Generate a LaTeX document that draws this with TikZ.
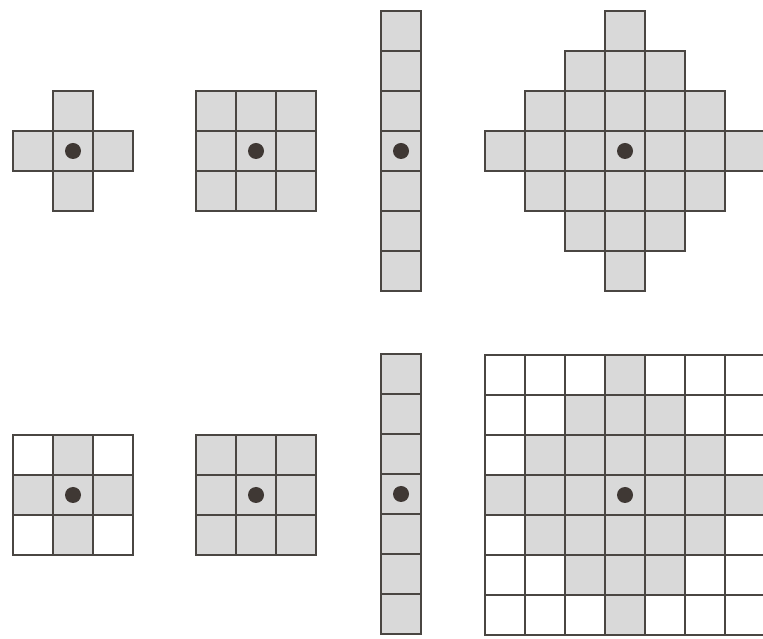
\documentclass[tikz,border=0pt]{standalone}
\definecolor{gridline}{HTML}{4A4642}
\definecolor{cellgray}{HTML}{D9D9D9}
\definecolor{dotgray}{HTML}{3F3834}
\tikzset{
  cell/.style = {draw = gridline, fill = cellgray, line width = 0.6pt},
  origin/.style = {fill = dotgray}
}
\begin{document}
\begin{tikzpicture}[scale = 0.5]
  \useasboundingbox (0,0) rectangle (19.075,15.95);
  % top row
  \begin{scope}[shift = {(1.825,12.175)}]
  \foreach \x/\y in {0/1, -1/0, 0/0, 1/0, 0/-1}
    \draw[cell] (\x-0.5,\y-0.5) rectangle ++(1,1);
  \fill[origin] (0,0) circle (0.2);
  \end{scope}
  \begin{scope}[shift = {(6.4,12.175)}]
  \foreach \x in {-1,0,1}
    \foreach \y in {-1,0,1}
      \draw[cell] (\x-0.5,\y-0.5) rectangle ++(1,1);
  \fill[origin] (0,0) circle (0.2);
  \end{scope}
  \begin{scope}[shift = {(10.025,12.175)}]
  \foreach \y in {-3,...,3}
    \draw[cell] (-0.5,\y-0.5) rectangle ++(1,1);
  \fill[origin] (0,0) circle (0.2);
  \end{scope}
  \begin{scope}[shift = {(15.625,12.175)}]
  \foreach \x in {-3,...,3}
    \foreach \y in {-3,...,3} {
      \pgfmathtruncatemacro\dist{abs(\x)+abs(\y)}
      \ifnum\dist<4 \draw[cell] (\x-0.5,\y-0.5) rectangle ++(1,1); \fi
    }
  \fill[origin] (0,0) circle (0.2);
  \end{scope}
  % bottom row
  \begin{scope}[shift = {(1.825,3.575)}]
  \foreach \x in {-1,0,1}
    \foreach \y in {-1,0,1} {
      \pgfmathtruncatemacro\dist{abs(\x)+abs(\y)}
      \ifnum\dist<2 \def\tone{cellgray}\else\def\tone{white}\fi
      \draw[cell, fill = \tone] (\x-0.5,\y-0.5) rectangle ++(1,1);
    }
  \fill[origin] (0,0) circle (0.2);
  \end{scope}
  \begin{scope}[shift = {(6.4,3.575)}]
  \foreach \x in {-1,0,1}
    \foreach \y in {-1,0,1}
      \draw[cell] (\x-0.5,\y-0.5) rectangle ++(1,1);
  \fill[origin] (0,0) circle (0.2);
  \end{scope}
  \begin{scope}[shift = {(10.025,3.6)}]
  \foreach \y in {-3,...,3}
    \draw[cell] (-0.5,\y-0.5) rectangle ++(1,1);
  \fill[origin] (0,0) circle (0.2);
  \end{scope}
  \begin{scope}[shift = {(15.625,3.575)}]
  \foreach \x in {-3,...,3}
    \foreach \y in {-3,...,3} {
      \pgfmathtruncatemacro\dist{abs(\x)+abs(\y)}
      \ifnum\dist<4 \def\tone{cellgray}\else\def\tone{white}\fi
      \draw[cell, fill = \tone] (\x-0.5,\y-0.5) rectangle ++(1,1);
    }
  \fill[origin] (0,0) circle (0.2);
  \end{scope}
\end{tikzpicture}
\end{document}
